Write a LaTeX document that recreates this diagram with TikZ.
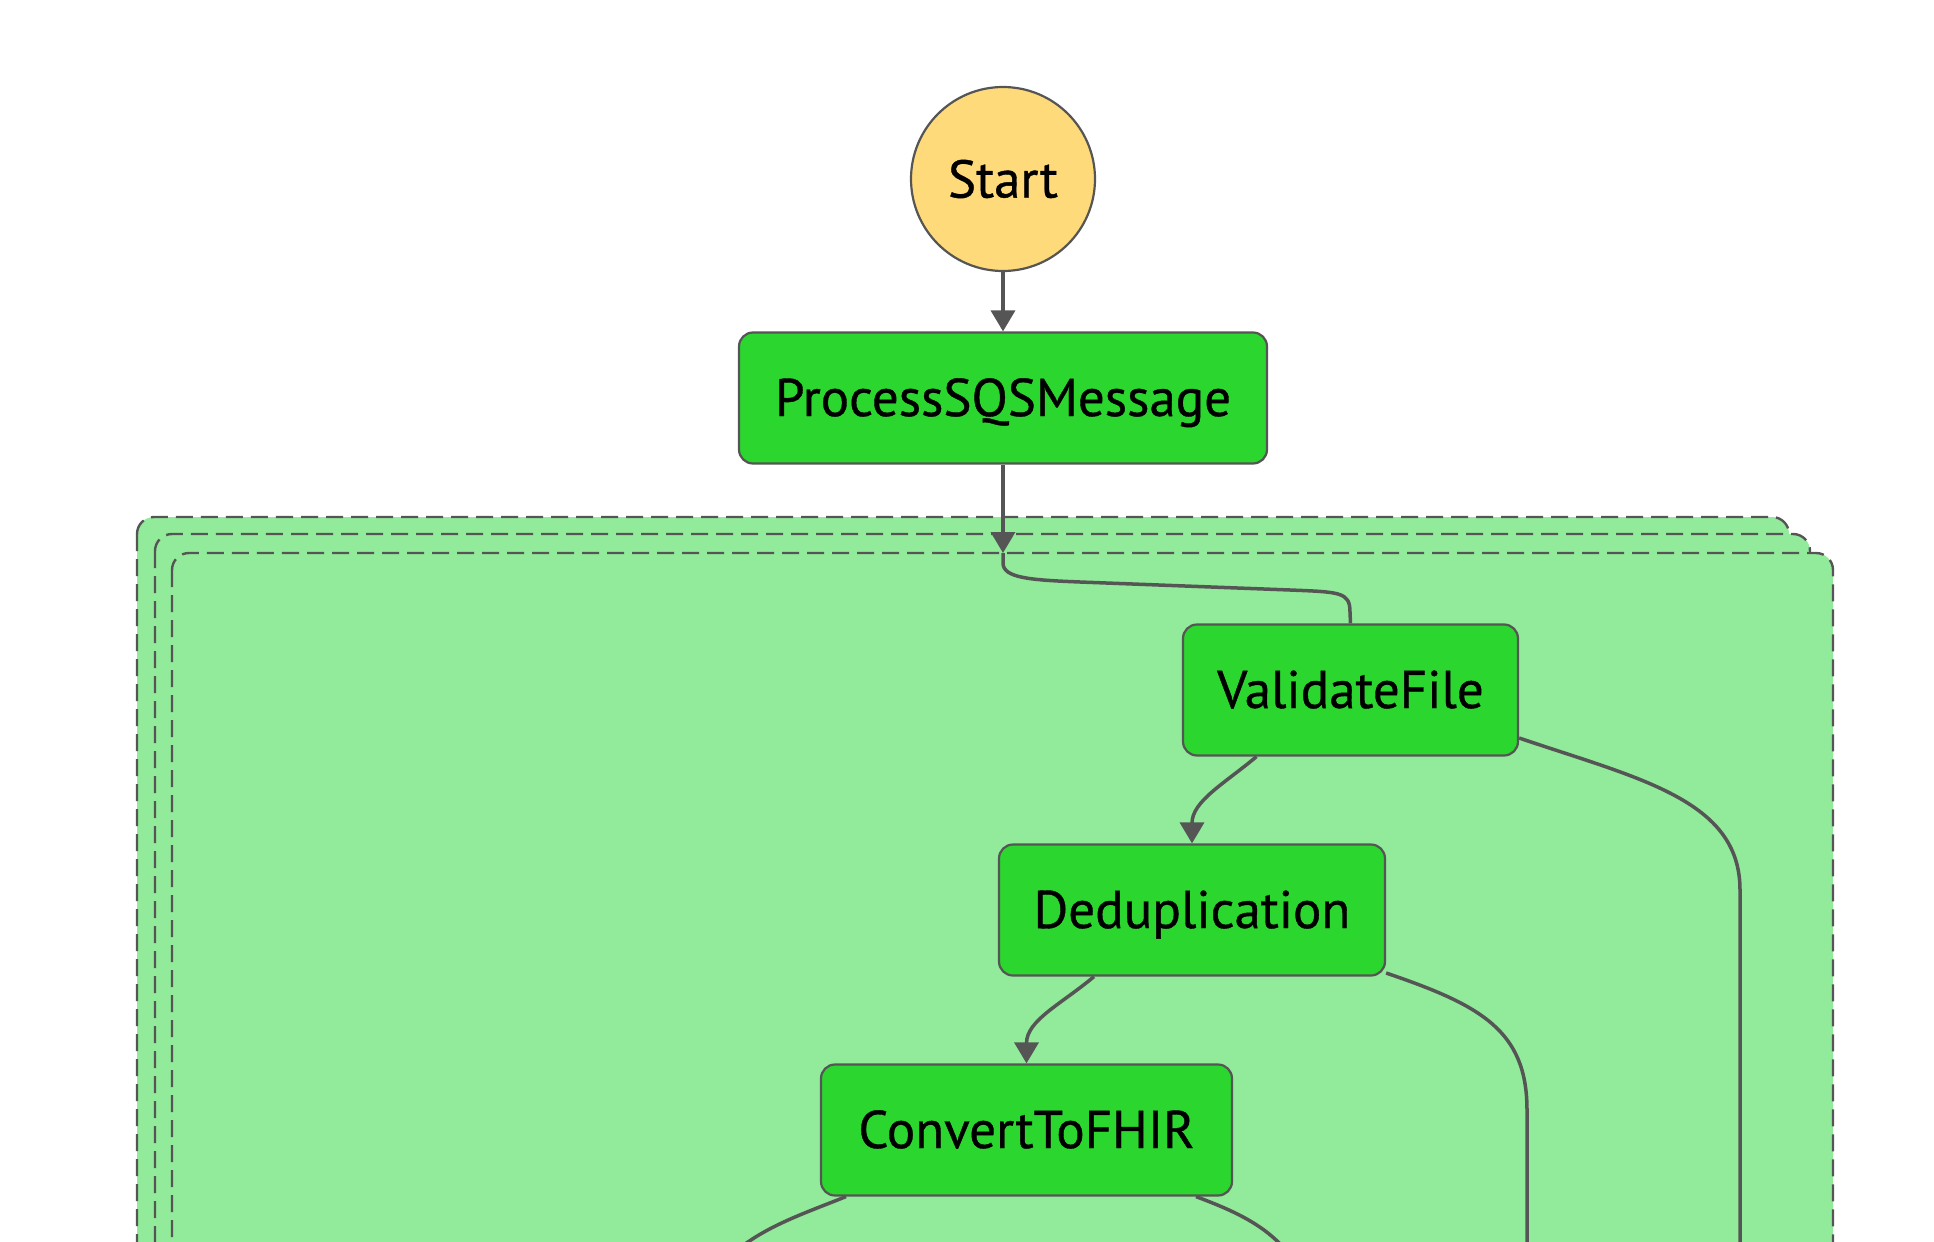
\documentclass[tikz,border=0pt]{standalone}
\usepackage{fontspec}
\setmainfont{PT Sans}
\newfontfamily\statefont{PT Sans}[FakeBold=0.7]
\usepackage{tikz}
\usetikzlibrary{arrows.meta,positioning}
\usepackage{xcolor}

\definecolor{startyellow}{HTML}{FFDA7A}
\definecolor{taskgreen}{HTML}{2BD62E}
\definecolor{mapgreen}{HTML}{92EA9B}
\definecolor{linegray}{HTML}{555555}

\tikzset{
  startstate/.style={circle,draw=linegray,fill=startyellow,line width=1.1pt,minimum size=92pt,inner sep=0pt},
  task/.style={rectangle,rounded corners=7pt,draw=linegray,fill=taskgreen,line width=1.1pt,minimum height=65.5pt,inner sep=0pt,text height=18pt,text depth=0pt},
  mapframe/.style={-,draw=linegray,fill=mapgreen,line width=1.2pt,dash pattern=on 8.5pt off 4pt,rounded corners=8.5pt},
  flow/.style={draw=linegray,line width=1.75pt},
  every edge/.append style={flow}
}

\begin{document}
\begin{tikzpicture}[->,>={Triangle[width=12pt,length=10.5pt]},x=0.5pt,y=-0.5pt,node distance=110pt,line width=1.75pt,font=\statefont\fontsize{26.5}{30}\selectfont]
  \path[use as bounding box] (0,0) rectangle (1934,1242);
  \clip (0,0) rectangle (1934,1242);
  % map state, three stacked iterations
  \path[mapframe] (137,517) rectangle (1789,1300);
  \path[mapframe] (155,534) rectangle (1810,1300);
  \path[mapframe] (172,553) rectangle (1833,1300);

  \node[startstate] (start) at (1003,179) {Start};
  \node[task,minimum width=264pt]   (psqs)     [below of=start,node distance=109.5pt]            {ProcessSQSMessage};
  \node[task,minimum width=167.5pt] (validate) [below of=psqs,node distance=146pt,xshift=173.75pt] {ValidateFile};
  \node[task,minimum width=193pt]   (dedup)    [below of=validate,xshift=-79.25pt]               {Deduplication};
  \node[task,minimum width=205.5pt] (convert)  [below of=dedup,xshift=-82.75pt]                  {ConvertToFHIR};

  \coordinate (mapin)     at (1003,553);
  \coordinate (vfend)     at (1740,1260);
  \coordinate (dedupend)  at (1527,1260);
  \coordinate (convleft)  at (728,1258);
  \coordinate (convright) at (1292,1258);

  \path (start) edge (psqs)
        (psqs)  edge (mapin)
        ([xshift=-47pt]validate.south) edge[out=-140,in=90] (dedup.north)
        ([xshift=-49pt]dedup.south)    edge[out=-140,in=90] (convert.north);

  % into the map and out of it
  \draw[flow,-] (mapin) -- ++(0,10) .. controls +(0,15) and +(-50,-2) .. (1080,582)
    -- (1290,590) .. controls +(50,2) and +(0,-20) .. (1350,612) -- (validate.north);
  \draw[flow,-] ([yshift=-24pt]validate.east) .. controls (1640,779) and (1740,800) .. (1740,890) -- (vfend);
  \draw[flow,-] ([yshift=-31.5pt]dedup.east) .. controls (1480,1005) and (1527,1030) .. (1527,1110) -- (dedupend);
  \draw[flow,-] ([xshift=-90.25pt]convert.south) .. controls (800,1215) and (760,1228) .. (convleft);
  \draw[flow,-] ([xshift=84.75pt]convert.south) .. controls (1240,1213) and (1270,1228) .. (convright);
\end{tikzpicture}
\end{document}
